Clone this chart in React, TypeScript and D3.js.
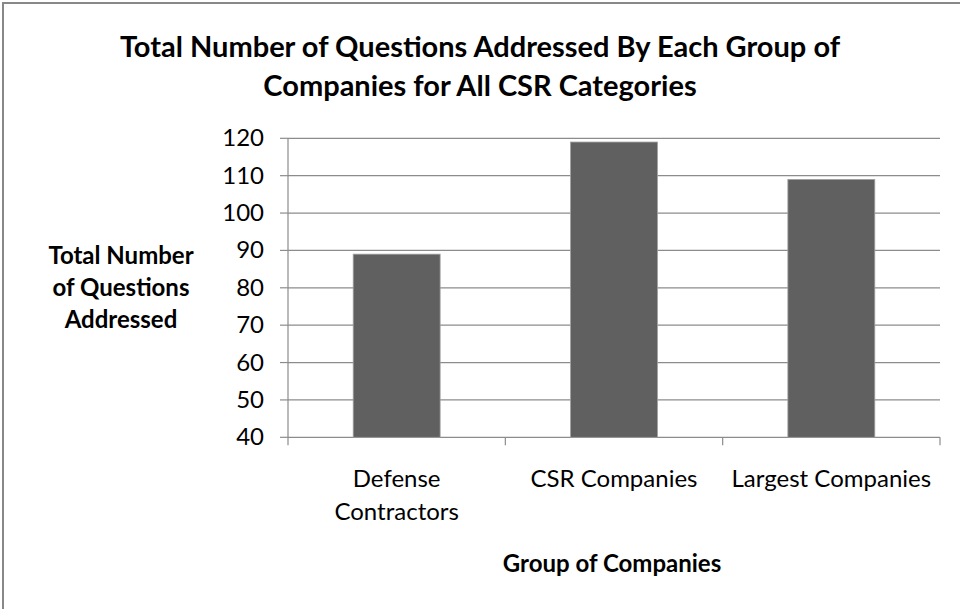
import React from "react";
import * as d3 from "d3";

const categories = ["Defense Contractors", "CSR Companies", "Largest Companies"];
const categoryLines = [["Defense", "Contractors"], ["CSR Companies"], ["Largest Companies"]];
const values = [89, 119, 109];
const yTicks = [40, 50, 60, 70, 80, 90, 100, 110, 120];
const titleLines = ["Total Number of Questions Addressed By Each Group of", "Companies for All CSR Categories"];
const yTitleLines = ["Total Number", "of Questions", "Addressed"];
const xTitle = "Group of Companies";

const FONT = "Lato, 'Open Sans', sans-serif";
const GRID = "#8c8c8c";

export default function App() {
  const x0 = 288, x1 = 940, yTop = 138.3, yBot = 437.3;
  const x = d3.scaleBand<string>().domain(categories).range([x0, x1]).paddingInner(0.6).paddingOuter(0.3);
  const step = (x1 - x0) / categories.length;
  const y = d3.scaleLinear().domain([40, 120]).range([yBot, yTop]);
  const catTicks = d3.range(categories.length + 1).map((i) => x0 + i * step);

  return (
    <svg width={960} height={609} style={{ position: "absolute", left: 0, top: 0, background: "#fff" }}>
      <rect x={0} y={0} width={960} height={609} fill="#fff" />
      <rect x={3} y={3} width={1000} height={700} fill="none" stroke="#888" strokeWidth={2} />
      {titleLines.map((t, i) => (
        <text key={i} x={480} y={57 + i * 39} textAnchor="middle" fontFamily={FONT} fontWeight="bold" fontSize={29} fill="#000">
          {t}
        </text>
      ))}
      {yTicks.map((t) => (
        <g key={t}>
          <line x1={x0} x2={x1} y1={y(t)} y2={y(t)} stroke={GRID} strokeWidth={1.2} />
          <line x1={x0 - 8} x2={x0} y1={y(t)} y2={y(t)} stroke={GRID} strokeWidth={1.2} />
          <text x={264} y={y(t) + 8} textAnchor="end" fontFamily={FONT} fontSize={24} fill="#000">
            {t}
          </text>
        </g>
      ))}
      <line x1={x0} x2={x0} y1={yTop} y2={yBot} stroke={GRID} strokeWidth={1.2} />
      {catTicks.map((t, i) => (
        <line key={i} x1={t} x2={t} y1={yBot} y2={yBot + 8} stroke={GRID} strokeWidth={1.2} />
      ))}
      {categories.map((c, i) => (
        <rect key={c} x={x(c)} y={y(values[i])} width={x.bandwidth()} height={yBot - y(values[i])} fill="#606060" stroke="#a0a0a0" strokeWidth={0.8} />
      ))}
      {categories.map((c, i) =>
        categoryLines[i].map((l, j) => (
          <text key={c + j} x={(x(c) as number) + x.bandwidth() / 2} y={487 + j * 33} textAnchor="middle" fontFamily={FONT} fontSize={24} fill="#000">
            {l}
          </text>
        ))
      )}
      {yTitleLines.map((l, i) => (
        <text key={i} x={121} y={264 + i * 32} textAnchor="middle" fontFamily={FONT} fontWeight="bold" fontSize={24} fill="#000">
          {l}
        </text>
      ))}
      <text x={612} y={572} textAnchor="middle" fontFamily={FONT} fontWeight="bold" fontSize={24} fill="#000">
        {xTitle}
      </text>
    </svg>
  );
}
